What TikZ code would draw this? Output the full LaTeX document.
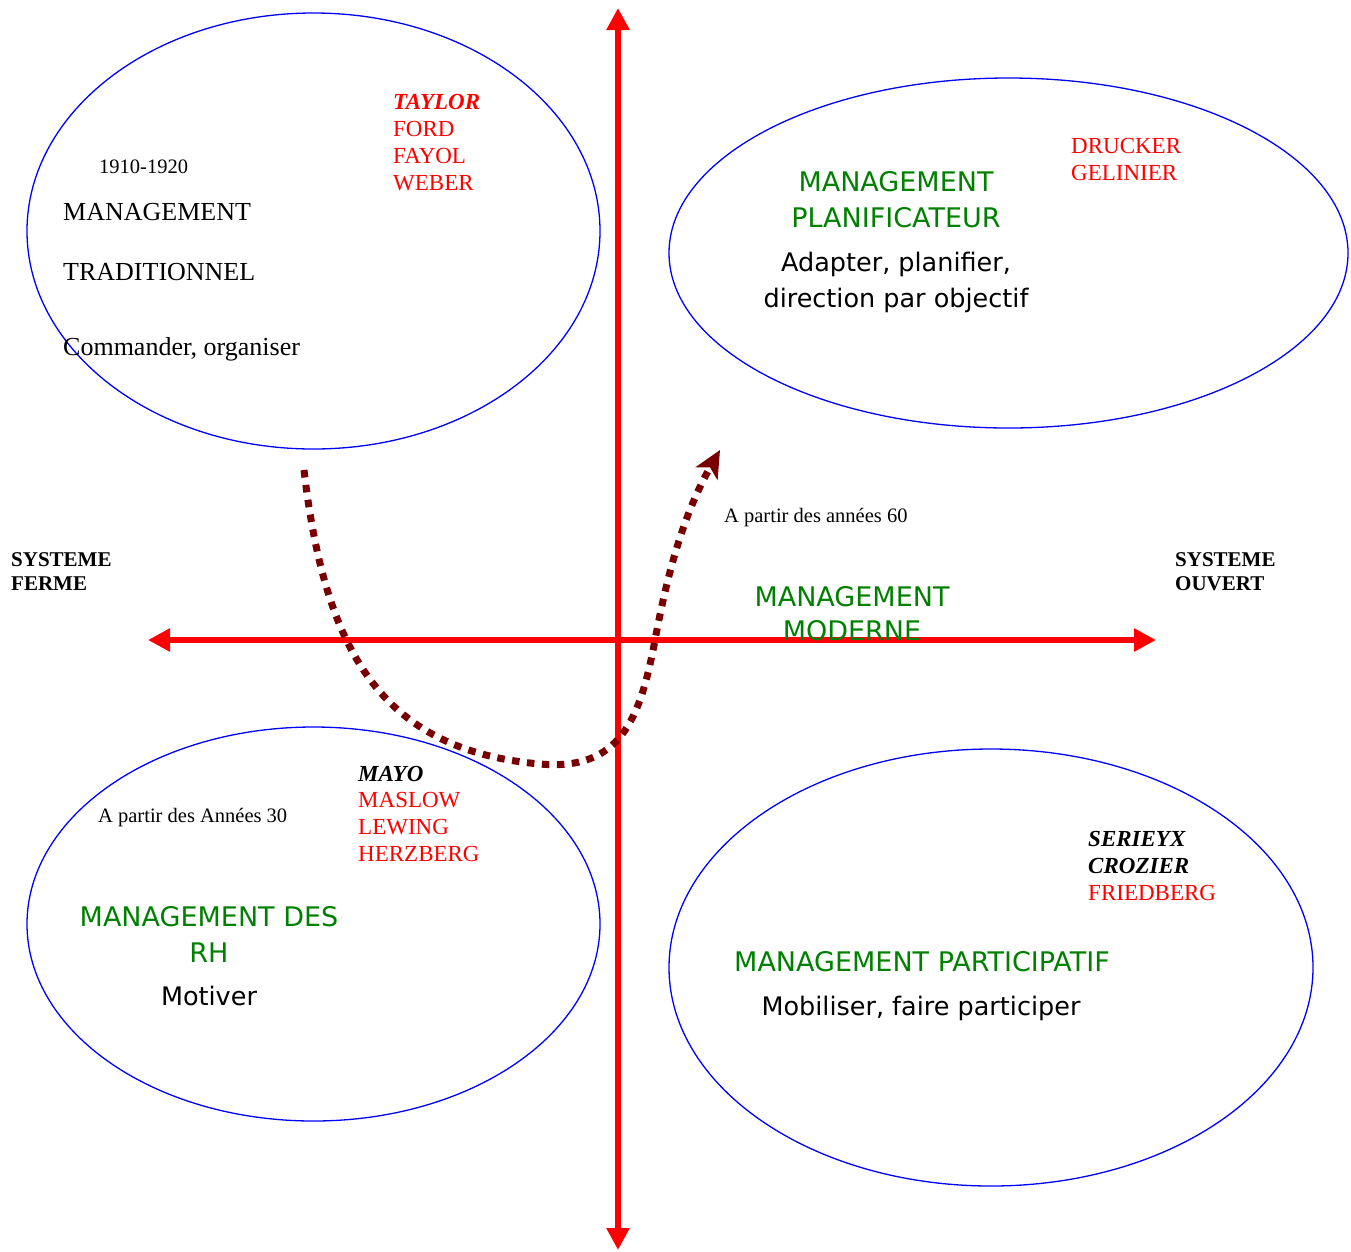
\documentclass[tikz,border=0pt]{standalone}
\usepackage{fontspec}
\usepackage{xcolor}
\setmainfont{Liberation Serif}
\newfontfamily\comicfont{DejaVu Sans}
\usetikzlibrary{shapes.geometric,arrows.meta}
\definecolor{axis-red}{RGB}{255,0,0}
\definecolor{title-green}{RGB}{0,128,0}
\definecolor{ring-blue}{RGB}{0,0,255}
\definecolor{path-maroon}{RGB}{120,0,0}
\tikzset{
    quad-ring/.style = {draw=ring-blue, line width=1.3pt, ellipse, inner sep=0pt},
    axis-line/.style = {draw=axis-red, line width=6pt, {Triangle[length=22pt,width=22pt]}-{Triangle[length=22pt,width=22pt]}},
    era-path/.style = {draw=path-maroon, line width=7pt, dash pattern=on 7.5pt off 7.5pt, -{Stealth[length=27pt,width=25pt,inset=7pt]}},
    serif-text/.style = {anchor=base west, inner sep=0pt, font=\fontsize{26}{31}\selectfont},
    small-text/.style = {anchor=base west, inner sep=0pt, font=\fontsize{20.5}{24}\selectfont},
    side-text/.style = {anchor=base west, inner sep=0pt, font=\fontsize{21}{24}\selectfont\bfseries},
    author/.style = {anchor=base west, inner sep=0pt, text=red, font=\fontsize{23}{27}\selectfont},
    lead-author/.style = {author, font=\fontsize{23}{27}\selectfont\bfseries\itshape},
    green-title/.style = {anchor=base, inner sep=0pt, text=title-green, font=\comicfont\fontsize{27}{31}\selectfont},
    comic-text/.style = {anchor=base, inner sep=0pt, font=\comicfont\fontsize{25.5}{30}\selectfont},
}
\begin{document}
\begin{tikzpicture}[x=1pt, y=1pt]
\useasboundingbox (0,0) rectangle (1351,-1251);

% the four quadrants
\node[quad-ring, minimum width=573pt, minimum height=436pt] (trad) at (313.5,-231) {};
\node[quad-ring, minimum width=679pt, minimum height=350pt] (plan) at (1008.5,-253) {};
\node[quad-ring, minimum width=573pt, minimum height=394pt] (rh) at (313.5,-924) {};
\node[quad-ring, minimum width=644pt, minimum height=437pt] (part) at (991,-967.5) {};

% axes
\coordinate (west) at (148,-640);
\coordinate (east) at (1156,-640);
\coordinate (north) at (618,-8);
\coordinate (south) at (618,-1250);
\draw[axis-line] (west) -- (east);
\draw[axis-line] (south) -- (north);

% evolution
\coordinate (from) at (304,-470);
\coordinate (low) at (540,-764);
\coordinate (cross) at (655,-640);
\coordinate (to) at (720,-450);
\draw[era-path] (from) .. controls (325,-650) and (380,-750) .. (low)
    .. controls (620,-771) and (640,-720) .. (cross)
    .. controls (665,-587) and (680,-520) .. (to);

% top left
\node[small-text] (trad-date) at (99,-173) {1910-1920};
\node[serif-text] (trad-a) at (63,-220) {MANAGEMENT};
\node[serif-text] (trad-b) at (63,-280) {TRADITIONNEL};
\node[serif-text] (trad-c) at (63,-355) {Commander, organiser};
\node[lead-author] (taylor) at (393,-109) {TAYLOR};
\node[author] (ford) at (393,-136) {FORD};
\node[author] (fayol) at (393,-163) {FAYOL};
\node[author] (weber) at (393,-190) {WEBER};

% top right
\node[author] (drucker) at (1071,-153) {DRUCKER};
\node[author] (gelinier) at (1071,-180) {GELINIER};
\node[green-title] (plan-a) at (896,-191) {MANAGEMENT};
\node[green-title] (plan-b) at (896,-227) {PLANIFICATEUR};
\node[comic-text] (plan-c) at (896,-271) {Adapter, planifier,};
\node[comic-text] (plan-d) at (896,-307) {direction par objectif};

% middle
\node[small-text] (sixties) at (724,-522) {A partir des années 60};
\node[green-title] (mod-a) at (852,-606) {MANAGEMENT};
\node[green-title] (mod-b) at (852,-640) {MODERNE};
\node[side-text] (ferme-a) at (11,-566) {SYSTEME};
\node[side-text] (ferme-b) at (11,-590) {FERME};
\node[side-text] (ouvert-a) at (1175,-566) {SYSTEME};
\node[side-text] (ouvert-b) at (1175,-590) {OUVERT};

% bottom left
\node[lead-author, text=black] (mayo) at (358,-781) {MAYO};
\node[author] (maslow) at (358,-807) {MASLOW};
\node[author] (lewing) at (358,-834) {LEWING};
\node[author] (herzberg) at (358,-861) {HERZBERG};
\node[small-text] (thirties) at (98,-822) {A partir des Années 30};
\node[green-title] (rh-a) at (209,-926) {MANAGEMENT DES};
\node[green-title] (rh-b) at (209,-962) {RH};
\node[comic-text] (rh-c) at (209,-1005) {Motiver};

% bottom right
\node[lead-author, text=black] (serieyx) at (1088,-846) {SERIEYX};
\node[lead-author, text=black] (crozier) at (1088,-873) {CROZIER};
\node[author] (friedberg) at (1088,-900) {FRIEDBERG};
\node[green-title] (part-a) at (922,-971) {MANAGEMENT PARTICIPATIF};
\node[comic-text] (part-b) at (921,-1015) {Mobiliser, faire participer};
\end{tikzpicture}
\end{document}
